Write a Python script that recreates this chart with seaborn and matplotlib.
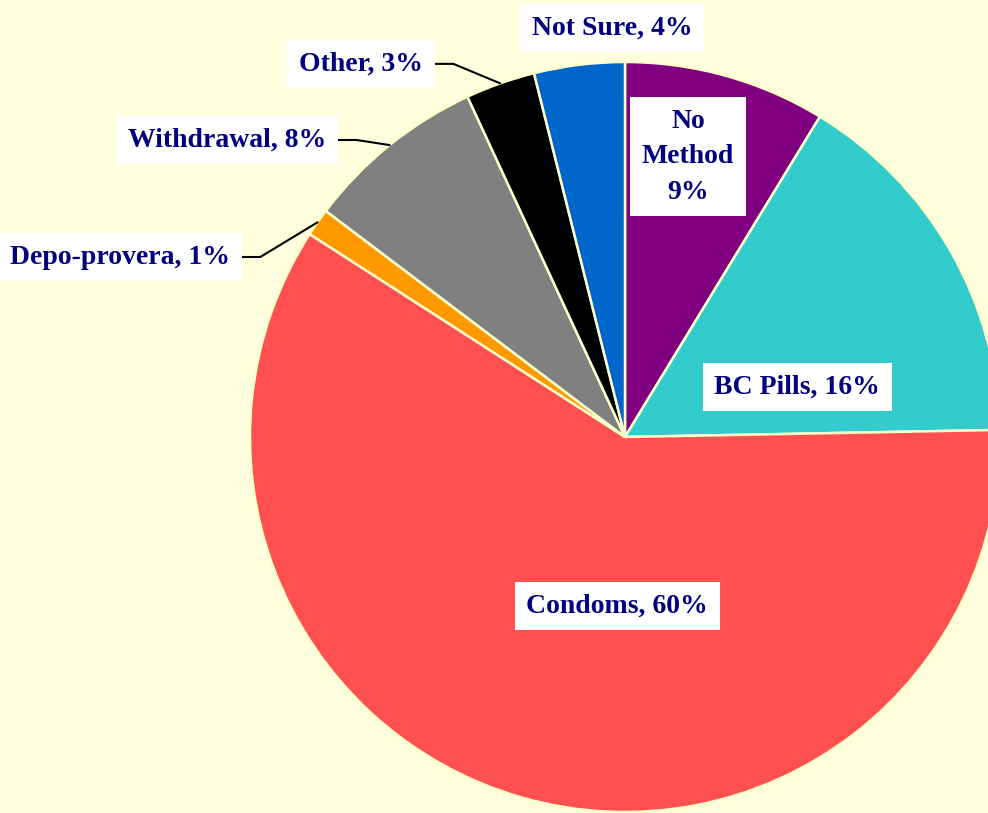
import numpy as np
import seaborn as sns
import matplotlib.pyplot as plt

# Contraception method used (share of respondents, %)
methods = ['No Method', 'BC Pills', 'Condoms', 'Depo-provera', 'Withdrawal', 'Other', 'Not Sure']
shares = [8.7, 16.0, 59.4, 1.2, 7.8, 3.0, 3.9]
slice_colors = ['#800080', '#33CCCC', '#FF5050', '#FF9900', '#808080', '#000000', '#0066CC']
label_text = ['No\nMethod\n9%', 'BC Pills, 16%', 'Condoms, 60%', 'Depo-provera, 1%',
              'Withdrawal, 8%', 'Other, 3%', 'Not Sure, 4%']

sns.set_theme(style='white')
plt.rcParams['font.family'] = ['Liberation Serif', 'DejaVu Serif']

bg = '#FFFFDD'
fig = plt.figure(figsize=(9.88, 8.13), dpi=100, facecolor=bg)
ax = fig.add_axes([250 / 988, 1 / 813, 750 / 988, 750 / 813])
ax.set_facecolor(bg)

wedges, _ = ax.pie(shares, colors=slice_colors, startangle=90, counterclock=False,
                   wedgeprops=dict(edgecolor='#FFFFCC', linewidth=1.8))
for w in wedges:
    w.set_clip_on(False)
ax.set_xlim(-1, 1)
ax.set_ylim(-1, 1)
ax.set_aspect('equal')
ax.axis('off')

# label centres (in pie radius units) and whether a leader line is drawn
label_pos = {
    'No Method': (0.168, 0.747),
    'BC Pills': (0.459, 0.133),
    'Condoms': (-0.021, -0.451),
    'Depo-provera': (-1.347, 0.48),
    'Withdrawal': (-1.061, 0.792),
    'Other': (-0.704, 0.995),
    'Not Sure': (-0.035, 1.09),
}
leader = {'Depo-provera', 'Withdrawal', 'Other'}

box = dict(boxstyle='square,pad=0.42', facecolor='white', edgecolor='none')
for w, name, txt in zip(wedges, methods, label_text):
    x, y = label_pos[name]
    t = ax.text(x, y, txt, ha='center', va='center', fontsize=20, fontweight='bold',
                color='#000080', bbox=box, linespacing=1.55, clip_on=False, zorder=5)
    if name in leader:
        mid = np.deg2rad((w.theta1 + w.theta2) / 2)
        px, py = np.cos(mid), np.sin(mid)
        fig.canvas.draw()
        bb = t.get_bbox_patch().get_window_extent().transformed(ax.transData.inverted())
        x0 = bb.x1
        ax.plot([x0, x0 + 0.05, px], [y, y, py], color='black', lw=1.5,
                clip_on=False, zorder=4)

fig.savefig('out.png', dpi=100, facecolor=bg)
